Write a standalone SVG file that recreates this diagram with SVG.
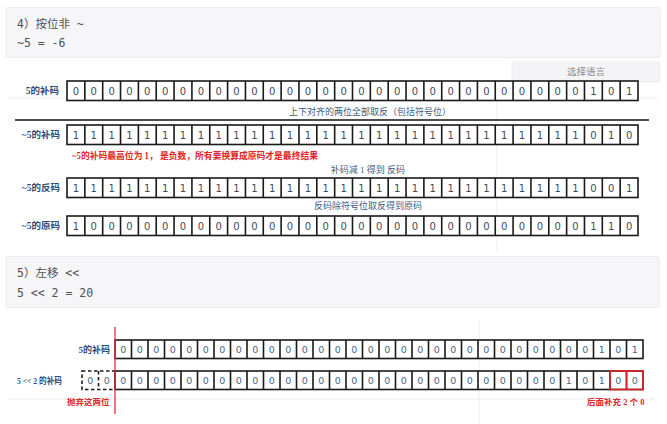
<svg xmlns="http://www.w3.org/2000/svg" xmlns:xlink="http://www.w3.org/1999/xlink" width="667" height="424" viewBox="0 0 667 424">
<style>
.code{fill:#f6f5f8;stroke:#ececf0;stroke-width:1}
.codet{font-family:"DejaVu Sans Mono","Noto Sans CJK SC",monospace;font-size:11.5px;fill:#505050}
.cell{fill:#fff;stroke:#1a1a1a;stroke-width:1.6}
.div{fill:none;stroke:#1a1a1a;stroke-width:1.6}
.dig{font-family:"DejaVu Sans","Noto Sans CJK SC",sans-serif;font-size:10px;fill:#3f4b5a;text-anchor:middle}
.digb{font-family:"DejaVu Sans","Noto Sans CJK SC",sans-serif;font-size:9.5px;fill:#4a6788;text-anchor:middle}
.lbl{font-family:"Liberation Serif","Noto Sans CJK SC",serif;font-size:9.5px;font-weight:bold;fill:#2f4d78;text-anchor:end}
.note{font-family:"Liberation Serif","Noto Sans CJK SC",serif;font-size:9px;fill:#3d5a80;text-anchor:middle}
.red{font-family:"Liberation Serif","Noto Sans CJK SC",serif;font-size:9.5px;font-weight:bold;fill:#e02828}
.faint{stroke:#ebebeb;stroke-width:1;fill:none}
</style>
<defs>
<g id="gridTop">
<rect class="cell" x="67" y="0" width="571" height="19.5"/>
<path class="div" d="M84.84 0v19.5M102.69 0v19.5M120.53 0v19.5M138.38 0v19.5M156.22 0v19.5M174.06 0v19.5M191.91 0v19.5M209.75 0v19.5M227.59 0v19.5M245.44 0v19.5M263.28 0v19.5M281.13 0v19.5M298.97 0v19.5M316.81 0v19.5M334.66 0v19.5M352.5 0v19.5M370.34 0v19.5M388.19 0v19.5M406.03 0v19.5M423.88 0v19.5M441.72 0v19.5M459.56 0v19.5M477.41 0v19.5M495.25 0v19.5M513.09 0v19.5M530.94 0v19.5M548.78 0v19.5M566.63 0v19.5M584.47 0v19.5M602.31 0v19.5M620.16 0v19.5"/>
</g>
<g id="gridBot">
<rect class="cell" x="115" y="0" width="528" height="18.5"/>
<path class="div" d="M131.5 0v18.5M148 0v18.5M164.5 0v18.5M181 0v18.5M197.5 0v18.5M214 0v18.5M230.5 0v18.5M247 0v18.5M263.5 0v18.5M280 0v18.5M296.5 0v18.5M313 0v18.5M329.5 0v18.5M346 0v18.5M362.5 0v18.5M379 0v18.5M395.5 0v18.5M412 0v18.5M428.5 0v18.5M445 0v18.5M461.5 0v18.5M478 0v18.5M494.5 0v18.5M511 0v18.5M527.5 0v18.5M544 0v18.5M560.5 0v18.5M577 0v18.5M593.5 0v18.5M610 0v18.5M626.5 0v18.5"/>
</g>
</defs>
<rect width="667" height="424" fill="#fff"/>

<!-- faint background artifacts -->
<g id="background">
<path class="faint" d="M8 98H658M497 100V250M8 399H655M479 320V424"/>
</g>

<!-- code block 4 -->
<g id="code-not">
<rect class="code" x="6" y="7.5" width="654" height="50" rx="2"/>
<text class="codet" x="17" y="28">4）按位非 ~</text>
<text class="codet" x="17" y="47">~5 = -6</text>
</g>

<g id="lang-select">
<rect x="512" y="62" width="148" height="20" fill="#f4f4f6" stroke="#ececef" stroke-width="1"/>
<text x="586" y="74.5" font-family="Noto Sans CJK SC,sans-serif" font-size="9.5" fill="#8a8a8a" text-anchor="middle">选择语言</text>
</g>

<!-- top rows -->
<g id="row-5-comp" transform="translate(0,81)">
<text class="lbl" x="59" y="13">5的补码</text>
<use href="#gridTop" xlink:href="#gridTop"/>
<text class="dig" y="13.6" x="75.92 93.77 111.61 129.45 147.30 165.14 182.98 200.83 218.67 236.52 254.36 272.20 290.05 307.89 325.73 343.58 361.42 379.27 397.11 414.95 432.80 450.64 468.48 486.33 504.17 522.02 539.86 557.70 575.55 593.39 611.23 629.08">00000000000000000000000000000101</text>
</g>

<g id="note-invert">
<text class="note" x="370" y="115">上下对齐的两位全部取反（包括符号位）</text>
</g>

<g id="separator">
<line x1="15" y1="120" x2="649" y2="120" stroke="#111" stroke-width="1.6"/>
</g>

<g id="row-not5-comp" transform="translate(0,125)">
<text class="lbl" x="60" y="13">~5的补码</text>
<use href="#gridTop" xlink:href="#gridTop"/>
<text class="dig" y="13.6" x="75.92 93.77 111.61 129.45 147.30 165.14 182.98 200.83 218.67 236.52 254.36 272.20 290.05 307.89 325.73 343.58 361.42 379.27 397.11 414.95 432.80 450.64 468.48 486.33 504.17 522.02 539.86 557.70 575.55 593.39 611.23 629.08">11111111111111111111111111111010</text>
</g>

<g id="note-negative">
<text class="red" x="72" y="159" textLength="246" lengthAdjust="spacingAndGlyphs">~5的补码最高位为 1， 是负数，所有要换算成原码才是最终结果</text>
</g>

<g id="note-minus1">
<text class="note" x="368" y="173">补码减 1 得到 反码</text>
</g>

<g id="row-not5-ones" transform="translate(0,178)">
<text class="lbl" x="60" y="13">~5的反码</text>
<use href="#gridTop" xlink:href="#gridTop"/>
<text class="dig" y="13.6" x="75.92 93.77 111.61 129.45 147.30 165.14 182.98 200.83 218.67 236.52 254.36 272.20 290.05 307.89 325.73 343.58 361.42 379.27 397.11 414.95 432.80 450.64 468.48 486.33 504.17 522.02 539.86 557.70 575.55 593.39 611.23 629.08">11111111111111111111111111111001</text>
</g>

<g id="note-sign">
<text class="note" x="368" y="209">反码除符号位取反得到原码</text>
</g>

<g id="row-not5-orig" transform="translate(0,216)">
<text class="lbl" x="60" y="13">~5的原码</text>
<use href="#gridTop" xlink:href="#gridTop"/>
<text class="dig" y="13.6" x="75.92 93.77 111.61 129.45 147.30 165.14 182.98 200.83 218.67 236.52 254.36 272.20 290.05 307.89 325.73 343.58 361.42 379.27 397.11 414.95 432.80 450.64 468.48 486.33 504.17 522.02 539.86 557.70 575.55 593.39 611.23 629.08">10000000000000000000000000000110</text>
</g>

<!-- code block 5 -->
<g id="code-shift">
<rect class="code" x="6" y="256.5" width="653" height="51" rx="2"/>
<text class="codet" x="17" y="277">5）左移 &lt;&lt;</text>
<text class="codet" x="17" y="296.5">5 &lt;&lt; 2 = 20</text>
</g>

<!-- bottom rows -->
<g id="row-b-5" transform="translate(0,340)">
<text class="lbl" x="110" y="12.5" style="font-size:9px">5的补码</text>
<use href="#gridBot" xlink:href="#gridBot"/>
<text class="digb" y="13" x="123.25 139.75 156.25 172.75 189.25 205.75 222.25 238.75 255.25 271.75 288.25 304.75 321.25 337.75 354.25 370.75 387.25 403.75 420.25 436.75 453.25 469.75 486.25 502.75 519.25 535.75 552.25 568.75 585.25 601.75 618.25 634.75">00000000000000000000000000000101</text>
</g>

<g id="row-b-shift" transform="translate(0,371)">
<text class="lbl" x="62" y="12.5" style="font-size:9px" textLength="45" lengthAdjust="spacingAndGlyphs">5 &lt;&lt; 2 的补码</text>
<rect x="82" y="0" width="33" height="18.5" fill="none" stroke="#1a1a1a" stroke-width="1.6" stroke-dasharray="3.5 2.5"/>
<line x1="98.5" y1="0" x2="98.5" y2="18.5" stroke="#1a1a1a" stroke-width="1.6" stroke-dasharray="3.5 2.5"/>
<text class="digb" y="13" x="90.25 106.75">00</text>
<use href="#gridBot" xlink:href="#gridBot"/>
<rect x="610" y="0" width="33" height="18.5" fill="none" stroke="#e0242b" stroke-width="1.6"/>
<line x1="626.5" y1="0" x2="626.5" y2="18.5" stroke="#e0242b" stroke-width="1.6"/>
<text class="digb" y="13" x="123.25 139.75 156.25 172.75 189.25 205.75 222.25 238.75 255.25 271.75 288.25 304.75 321.25 337.75 354.25 370.75 387.25 403.75 420.25 436.75 453.25 469.75 486.25 502.75 519.25 535.75 552.25 568.75 585.25 601.75 618.25 634.75">00000000000000000000000000010100</text>
</g>

<g id="cut-line">
<line x1="115" y1="327" x2="115" y2="414" stroke="#e0303a" stroke-width="1.3"/>
</g>

<g id="note-discard">
<text class="red" x="67" y="404.5" style="font-size:8.5px">抛弃这两位</text>
</g>
<g id="note-pad">
<text class="red" x="587" y="404.5" style="font-size:8.5px">后面补充 2 个 0</text>
</g>
</svg>
